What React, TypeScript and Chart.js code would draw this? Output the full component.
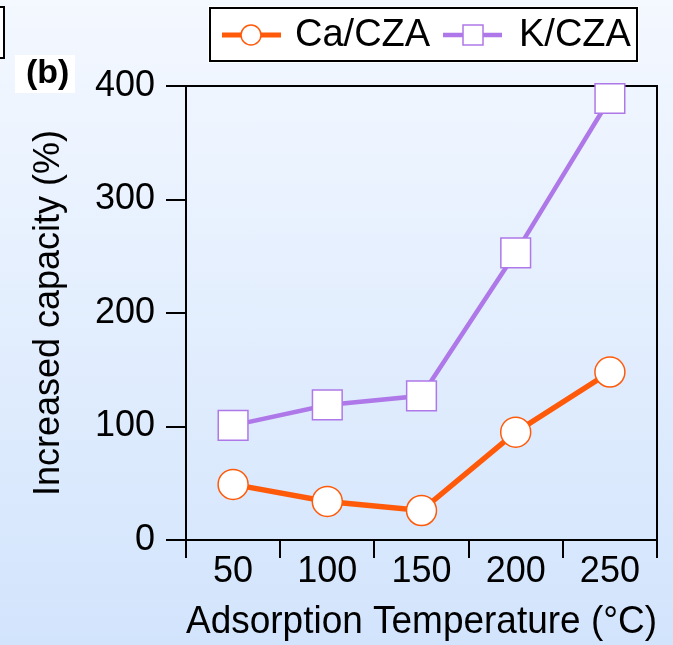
import React, { useEffect, useRef } from "react";
import { Chart, registerables } from "chart.js";

Chart.register(...registerables);

const categories = ["50", "100", "150", "200", "250"];
const caValues = [49, 34, 26, 95, 148];
const kValues = [101, 119, 127, 253, 389];
const yTicks = [0, 100, 200, 300, 400];
const seriesNames = ["Ca/CZA", "K/CZA"];
const xTitle = "Adsorption Temperature (°C)";
const yTitle = "Increased capacity (%)";
const panelLabel = "(b)";

const ORANGE = "#FF5A0A";
const PURPLE = "#AE78E8";
const FONT = "'Liberation Sans', Arial, Helvetica, sans-serif";

const framePlugin = {
  id: "frame",
  beforeDatasetsDraw(chart: any) {
    const { ctx, chartArea } = chart;
    ctx.save();
    ctx.strokeStyle = "#000";
    ctx.lineWidth = 2;
    ctx.beginPath();
    ctx.moveTo(chartArea.left - 20, chartArea.top);
    ctx.lineTo(chartArea.right, chartArea.top);
    ctx.lineTo(chartArea.right, chartArea.bottom);
    ctx.stroke();
    ctx.restore();
  },
};

const decorPlugin = {
  id: "decor",
  afterDraw(chart: any) {
    const { ctx } = chart;
    ctx.save();
    // partial box at top-left
    ctx.fillStyle = "#fff";
    ctx.fillRect(-5, 7, 9, 51);
    ctx.strokeStyle = "#000";
    ctx.lineWidth = 2;
    ctx.beginPath();
    ctx.moveTo(-5, 7);
    ctx.lineTo(4, 7);
    ctx.lineTo(4, 58);
    ctx.lineTo(-5, 58);
    ctx.stroke();

    // panel label
    ctx.fillStyle = "#fff";
    ctx.fillRect(15, 55, 60, 38);
    ctx.fillStyle = "#000";
    ctx.font = `bold 34px ${FONT}`;
    ctx.textAlign = "left";
    ctx.textBaseline = "middle";
    ctx.fillText(panelLabel, 26, 74);

    // legend
    const bx = 210, by = 8, bw = 427, bh = 53;
    ctx.fillStyle = "#fff";
    ctx.fillRect(bx - 2, by - 2, bw + 4, bh + 4);
    ctx.strokeStyle = "#000";
    ctx.lineWidth = 2;
    ctx.strokeRect(bx, by, bw, bh);
    const cy = 35;
    const ds = chart.data.datasets;
    // item 1
    ctx.strokeStyle = ds[0].borderColor;
    ctx.lineWidth = 5;
    ctx.beginPath();
    ctx.moveTo(222, cy);
    ctx.lineTo(281, cy);
    ctx.stroke();
    ctx.beginPath();
    ctx.arc(251, cy, 10, 0, Math.PI * 2);
    ctx.fillStyle = "#fff";
    ctx.fill();
    ctx.lineWidth = 1.5;
    ctx.stroke();
    ctx.fillStyle = "#000";
    ctx.font = `38px ${FONT}`;
    ctx.textAlign = "left";
    ctx.textBaseline = "middle";
    ctx.fillText(ds[0].label, 295, cy + 1);
    // item 2
    ctx.strokeStyle = ds[1].borderColor;
    ctx.lineWidth = 4.5;
    ctx.beginPath();
    ctx.moveTo(443, cy);
    ctx.lineTo(502, cy);
    ctx.stroke();
    ctx.fillStyle = "#fff";
    ctx.fillRect(463, cy - 10, 20, 20);
    ctx.lineWidth = 1.5;
    ctx.strokeRect(463, cy - 10, 20, 20);
    ctx.fillStyle = "#000";
    ctx.fillText(ds[1].label, 519, cy + 1);
    ctx.restore();
  },
};

export default function App() {
  const ref = useRef<HTMLCanvasElement | null>(null);
  useEffect(() => {
    if (!ref.current) return;
    const chart = new Chart(ref.current, {
      type: "line",
      data: {
        labels: categories,
        datasets: [
          {
            label: seriesNames[0],
            data: caValues,
            borderColor: ORANGE,
            backgroundColor: "#fff",
            borderWidth: 5.5,
            pointStyle: "circle",
            pointRadius: 15,
            pointHoverRadius: 15,
            pointBackgroundColor: "#fff",
            pointBorderColor: ORANGE,
            pointBorderWidth: 1.5,
            clip: false as any,
          },
          {
            label: seriesNames[1],
            data: kValues,
            borderColor: PURPLE,
            backgroundColor: "#fff",
            borderWidth: 4.5,
            pointStyle: "rect",
            pointRadius: 21,
            pointHoverRadius: 21,
            pointBackgroundColor: "#fff",
            pointBorderColor: PURPLE,
            pointBorderWidth: 1.5,
            clip: false as any,
          },
        ],
      },
      options: {
        animation: false,
        responsive: false,
        devicePixelRatio: 1,
        layout: { autoPadding: false, padding: { top: 86, right: 16, left: 0, bottom: 0 } },
        plugins: {
          legend: { display: false },
          tooltip: { enabled: false },
        },
        scales: {
          x: {
            type: "category",
            offset: true,
            afterFit: (s: any) => {
              s.height = 105;
              s.paddingLeft = 0;
              s.paddingRight = 0;
            },
            grid: {
              offset: true,
              drawOnChartArea: false,
              drawTicks: true,
              tickLength: 18,
              color: "#000",
              lineWidth: 2,
            },
            border: { display: true, color: "#000", width: 2 },
            ticks: {
              color: "#000",
              font: { family: FONT, size: 36 },
              padding: -8,
              maxRotation: 0,
              autoSkip: false,
            },
            title: {
              display: true,
              text: xTitle,
              color: "#000",
              font: { family: FONT, size: 38.5 },
              padding: 0,
            },
          },
          y: {
            min: 0,
            max: 400,
            afterFit: (s: any) => {
              s.width = 186;
              s.paddingTop = 0;
              s.paddingBottom = 0;
            },
            afterBuildTicks: (s: any) => {
              s.ticks = yTicks.map((v) => ({ value: v }));
            },
            grid: {
              drawOnChartArea: false,
              drawTicks: true,
              tickLength: 20,
              color: "#000",
              lineWidth: 2,
            },
            border: { display: true, color: "#000", width: 2 },
            ticks: {
              color: "#000",
              font: { family: FONT, size: 36 },
              padding: 11,
            },
            title: {
              display: true,
              text: yTitle,
              color: "#000",
              font: { family: FONT, size: 36 },
              padding: { top: 27, bottom: 0 },
            },
          },
        },
      },
      plugins: [framePlugin, decorPlugin],
    });
    return () => chart.destroy();
  }, []);
  return (
    <div
      style={{
        position: "absolute",
        left: 0,
        top: 0,
        width: 673,
        height: 645,
        background: "linear-gradient(to bottom, #F4F8FF 0%, #E6F0FE 40%, #D2E4FC 100%)",
      }}
    >
      <canvas ref={ref} width={673} height={645} style={{ display: "block" }} />
    </div>
  );
}
